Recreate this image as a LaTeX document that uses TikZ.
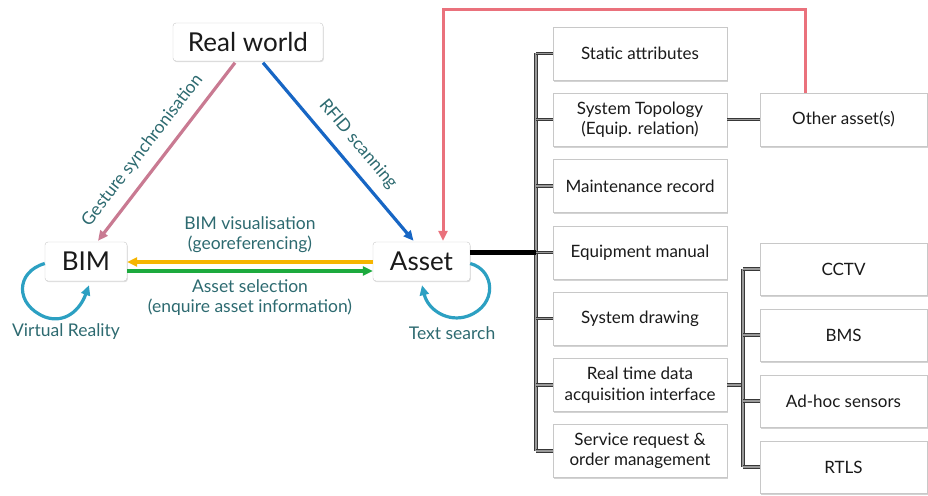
\documentclass[tikz,border=0pt]{standalone}
\usepackage{fontspec}
\setmainfont{Lato}
\usetikzlibrary{arrows.meta,shadows,calc}
\definecolor{lblc}{HTML}{2D6A70}
\definecolor{pinkc}{HTML}{C97A92}
\definecolor{bluec}{HTML}{1766C4}
\definecolor{yelc}{HTML}{F6B500}
\definecolor{grnc}{HTML}{1DAA3E}
\definecolor{cyc}{HTML}{2CA0C2}
\definecolor{redc}{HTML}{EA717C}
\definecolor{boxc}{HTML}{C8C8C8}
\definecolor{txtc}{HTML}{1A1A1A}
\begin{document}
\begin{tikzpicture}[x=1pt,y=-1pt,
  bigbox/.style={draw=boxc, fill=white, rounded corners=3pt, inner sep=0pt,
    drop shadow={shadow xshift=0.8pt, shadow yshift=-1.2pt, opacity=0.25},
    font=\fontsize{26}{30}\selectfont, text=txtc},
  rbox/.style={draw=boxc, fill=white, inner sep=0pt, align=center,
    drop shadow={shadow xshift=0.8pt, shadow yshift=-1.5pt, opacity=0.35},
    font=\fontsize{17}{20.5}\selectfont, text=txtc,
    minimum width=174pt, minimum height=53pt},
  sbox/.style={rbox, minimum width=167pt, minimum height=52pt},
  lab/.style={text=lblc, font=\fontsize{17.5}{20}\selectfont, align=center},
  arr/.style={line width=3.2pt, -{Triangle[length=10pt,width=9pt]}},
  loopc/.style={cyc, line width=3.2pt, -{Triangle[length=10pt,width=9pt]}},
  treeln/.style={draw=black!78, line width=1.1pt, double=black!40, double distance=1.1pt},
]
\useasboundingbox (0,0) rectangle (928,495);

% main nodes
\node[bigbox, minimum width=150pt, minimum height=38pt] (rw) at (248,42) {Real world};
\node[bigbox, minimum width=82pt, minimum height=39pt] (bim) at (86,261.5) {BIM};
\node[bigbox, minimum width=97pt, minimum height=39pt] (asset) at (421.5,261.5) {Asset};

% right column
\node[rbox] (sa) at (640,53.5) {Static attributes};
\node[rbox] (st) at (640,119.5) {System Topology\\(Equip. relation)};
\node[rbox] (mr) at (640,186) {Maintenance record};
\node[rbox] (em) at (640,252.5) {Equipment manual};
\node[rbox] (sd) at (640,318.5) {System drawing};
\node[rbox] (rt) at (640,385) {Real time data\\acquisition interface};
\node[rbox] (sr) at (640,451) {Service request \&\\order management};

\node[sbox, minimum height=53pt] (oa) at (843.5,119.5) {Other asset(s)};
\node[sbox] (cctv) at (843.5,269) {CCTV};
\node[sbox] (bms) at (843.5,335) {BMS};
\node[sbox] (adh) at (843.5,401) {Ad-hoc sensors};
\node[sbox] (rtls) at (843.5,467) {RTLS};

% triangle arrows
\draw[arr, pinkc] ($(rw.south)+(-13,1.5)$) --
  node[lab, pos=0.56, above=7pt, sloped] {Gesture synchronisation}
  ($(bim.north)+(12,-1)$);
\draw[arr, bluec] ($(rw.south)+(15,1.5)$) --
  node[lab, pos=0.53, above=7pt, sloped] {RFID scanning}
  ($(asset.north)+(-8,-1)$);
\draw[arr, yelc] ($(asset.west)+(0,0.5)$) --
  node[lab, midway, above=4pt] {BIM visualisation\\(georeferencing)}
  ($(bim.east)+(0,0.5)$);
\draw[arr, grnc] ($(bim.east)+(0,9.5)$) --
  node[lab, midway, below=4pt] {Asset selection\\(enquire asset information)}
  ($(asset.west)+(0,9.5)$);

% loops
\coordinate (bl0) at ($(bim.west)+(0,2)$);
\coordinate (bl1) at ($(bim.south)+(3,4)$);
\draw[loopc] (bl0) .. controls (15,272) and (15,305) .. (45,317)
  .. controls (65,324) and (80,310) .. (bl1);
\node[lab] (vr) at (66,332) {Virtual Reality};
\coordinate (al0) at ($(asset.east)+(0,2)$);
\coordinate (al1) at ($(asset.south)+(0.5,4)$);
\draw[loopc] (al0) .. controls (495,270) and (498,305) .. (468,316)
  .. controls (448,323) and (428,310) .. (al1);
\node[lab] (ts) at (452,333) {Text search};

% tree
\coordinate (tr) at (536,0);
\coordinate (tr2) at (743,0);
\draw[treeln] (sa.west -| tr) -- (sr.west -| tr);
\foreach \b in {sa,st,mr,em,sd,rt,sr}{
  \draw[treeln] (\b.west -| tr) -- (\b.west);
}
\draw[line width=5pt] (asset.east |- em.west) -- (em.west -| tr);
\draw[treeln] (st.east) -- (oa.west);
\draw[treeln] (rt.east) -- (rt.east -| tr2);
\draw[treeln] (cctv.west -| tr2) -- (rtls.west -| tr2);
\foreach \b in {cctv,bms,adh,rtls}{
  \draw[treeln] (\b.west -| tr2) -- (\b.west);
}

% red feedback
\draw[arr, redc, line width=3pt] ($(oa.north west)+(46,0)$) -- ++(0,-83)
  -| ($(asset.north)+(21.5,-1)$);
\end{tikzpicture}
\end{document}
